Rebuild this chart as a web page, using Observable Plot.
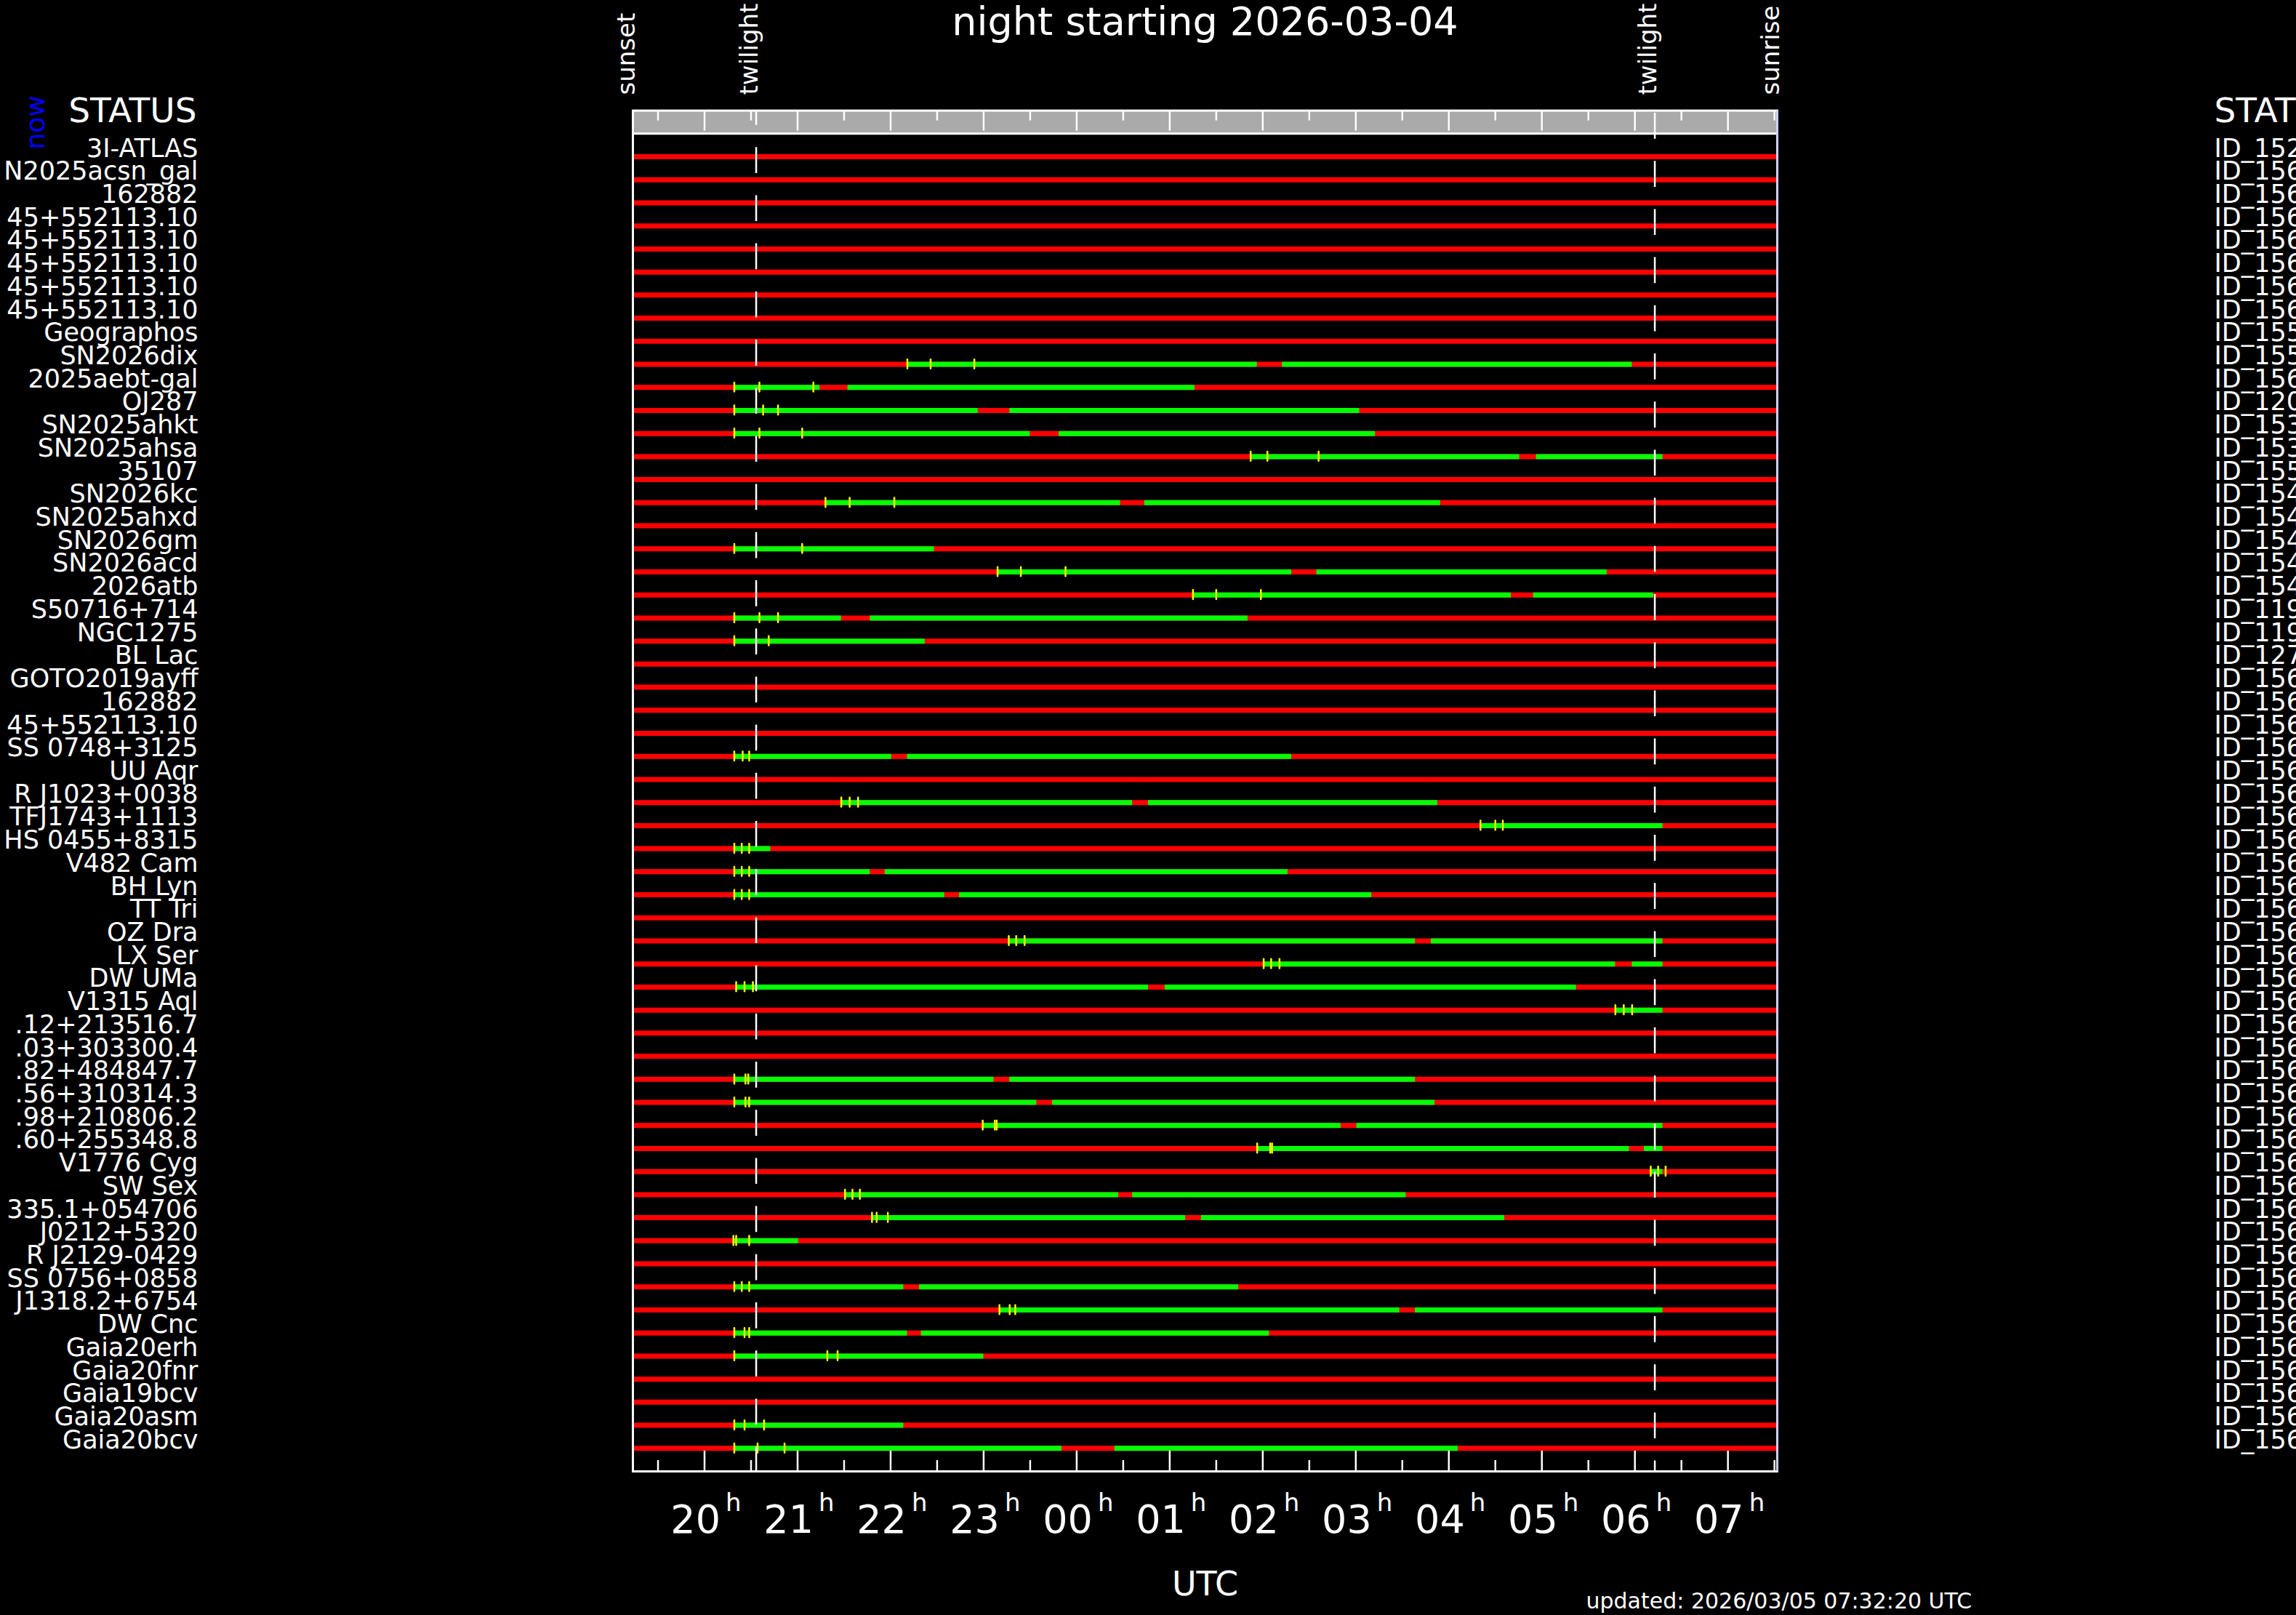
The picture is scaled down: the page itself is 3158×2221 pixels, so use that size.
<!DOCTYPE html>
<html>
<head>
<meta charset="utf-8">
<script src="https://cdn.jsdelivr.net/npm/d3@7"></script>
<script src="https://cdn.jsdelivr.net/npm/@observablehq/plot@0.6"></script>
<style>
  html, body { margin: 0; padding: 0; background: #000; overflow: hidden; }
  #chart svg { display: block; }
</style>
</head>
<body>
<div id="chart"></div>
<script>
// ---- data ----
const titleText = "night starting 2026-03-04";
const updatedText = "updated: 2026/03/05 07:32:20 UTC";

const targets = [
  "3I-ATLAS", "N2025acsn_gal", "162882", "45+552113.10", "45+552113.10",
  "45+552113.10", "45+552113.10", "45+552113.10", "Geographos", "SN2026dix",
  "2025aebt-gal", "OJ287", "SN2025ahkt", "SN2025ahsa", "35107",
  "SN2026kc", "SN2025ahxd", "SN2026gm", "SN2026acd", "2026atb",
  "S50716+714", "NGC1275", "BL Lac", "GOTO2019ayff", "162882",
  "45+552113.10", "SS 0748+3125", "UU Aqr", "R J1023+0038", "TFJ1743+1113",
  "HS 0455+8315", "V482 Cam", "BH Lyn", "TT Tri", "OZ Dra",
  "LX Ser", "DW UMa", "V1315 Aql", ".12+213516.7", ".03+303300.4",
  ".82+484847.7", ".56+310314.3", ".98+210806.2", ".60+255348.8", "V1776 Cyg",
  "SW Sex", "335.1+054706", "J0212+5320", "R J2129-0429", "SS 0756+0858",
  "J1318.2+6754", "DW Cnc", "Gaia20erh", "Gaia20fnr", "Gaia19bcv",
  "Gaia20asm", "Gaia20bcv"
];

const ids = [
  "ID_152", "ID_156", "ID_156", "ID_156", "ID_156", "ID_156", "ID_156", "ID_156",
  "ID_155", "ID_155", "ID_156", "ID_120", "ID_153", "ID_153", "ID_155",
  "ID_154", "ID_154", "ID_154", "ID_154", "ID_154", "ID_119", "ID_119", "ID_127",
  "ID_156", "ID_156", "ID_156", "ID_156", "ID_156", "ID_156", "ID_156",
  "ID_156", "ID_156", "ID_156", "ID_156", "ID_156", "ID_156", "ID_156",
  "ID_156", "ID_156", "ID_156", "ID_156", "ID_156", "ID_156", "ID_156",
  "ID_156", "ID_156", "ID_156", "ID_156", "ID_156", "ID_156", "ID_156",
  "ID_156", "ID_156", "ID_156", "ID_156", "ID_156", "ID_156"
];

// times in UTC hours (values above 24 belong to the next morning)
const sunset = 19.23;
const sunrise = 31.53;
const twilightEvening = 20.555;
const twilightMorning = 30.214;

// green observable windows per target [start, end]
const visible = [
  [], [], [], [], [], [], [], [], [],
  [[22.18, 25.94], [26.21, 29.97]],
  [[20.32, 21.24], [21.54, 25.27]],
  [[20.32, 22.94], [23.28, 27.04]],
  [[20.32, 23.50], [23.81, 27.21]],
  [[25.87, 28.76], [28.94, 30.30]],
  [],
  [[21.30, 24.47], [24.73, 27.91]],
  [],
  [[20.32, 22.47]],
  [[23.15, 26.31], [26.58, 29.70]],
  [[25.25, 28.67], [28.91, 30.20]],
  [[20.32, 21.47], [21.78, 25.84]],
  [[20.32, 22.37]],
  [], [], [], [],
  [[20.32, 22.01], [22.18, 26.31]],
  [],
  [[21.47, 24.60], [24.77, 27.88]],
  [[28.34, 30.30]],
  [[20.32, 20.71]],
  [[20.32, 21.78], [21.94, 26.27]],
  [[20.32, 22.58], [22.74, 27.17]],
  [],
  [[23.27, 27.64], [27.81, 30.30]],
  [[26.01, 29.79], [29.97, 30.30]],
  [[20.34, 24.77], [24.95, 29.37]],
  [[29.79, 30.30]],
  [], [],
  [[20.32, 23.11], [23.28, 27.64]],
  [[20.32, 23.57], [23.74, 27.85]],
  [[22.99, 26.84], [27.01, 30.30]],
  [[25.94, 29.94], [30.10, 30.30]],
  [[30.17, 30.30]],
  [[21.51, 24.45], [24.60, 27.54]],
  [[21.80, 25.17], [25.34, 28.60]],
  [[20.31, 21.01]],
  [],
  [[20.32, 22.14], [22.31, 25.74]],
  [[23.17, 27.47], [27.64, 30.30]],
  [[20.32, 22.18], [22.33, 26.07]],
  [[20.32, 23.00]],
  [], [],
  [[20.32, 22.14]],
  [[20.32, 23.84], [24.41, 28.10]]
];

// yellow exposure marks per target
const exposures = [
  [], [], [], [], [], [], [], [], [],
  [22.18, 22.43, 22.90],
  [20.32, 20.59, 21.17],
  [20.32, 20.63, 20.79],
  [20.32, 20.59, 21.05],
  [25.87, 26.05, 26.60],
  [],
  [21.30, 21.56, 22.04],
  [],
  [20.32, 21.05],
  [23.15, 23.40, 23.88],
  [25.25, 25.50, 25.98],
  [20.32, 20.59, 20.79],
  [20.32, 20.69],
  [], [], [], [],
  [20.32, 20.41, 20.48],
  [],
  [21.47, 21.56, 21.65],
  [28.34, 28.50, 28.58],
  [20.32, 20.40, 20.48],
  [20.32, 20.40, 20.48],
  [20.32, 20.40, 20.48],
  [],
  [23.27, 23.35, 23.44],
  [26.01, 26.09, 26.18],
  [20.34, 20.43, 20.52],
  [29.79, 29.88, 29.97],
  [], [],
  [20.32, 20.44, 20.47],
  [20.32, 20.44, 20.48],
  [22.99, 23.12, 23.14],
  [25.94, 26.08, 26.10],
  [30.17, 30.25, 30.33],
  [21.51, 21.59, 21.67],
  [21.80, 21.85, 21.97],
  [20.31, 20.34, 20.48],
  [],
  [20.32, 20.40, 20.48],
  [23.17, 23.28, 23.34],
  [20.32, 20.43, 20.48],
  [20.32, 21.32, 21.43],
  [], [],
  [20.32, 20.43, 20.64],
  [20.32, 20.57, 20.86]
];

const hourTicks = [20, 21, 22, 23, 24, 25, 26, 27, 28, 29, 30, 31];
const hourLabels = ["20", "21", "22", "23", "00", "01", "02", "03", "04", "05", "06", "07"];
const halfTicks = [19.5, 20.5, 21.5, 22.5, 23.5, 24.5, 25.5, 26.5, 27.5, 28.5, 29.5, 30.5, 31.5];
const events = [
  {t: sunset, label: "sunset"},
  {t: twilightEvening, label: "twilight"},
  {t: twilightMorning, label: "twilight"},
  {t: sunrise, label: "sunrise"}
];

// ---- derived tables ----
const rows = targets.map((name, i) => ({name, id: ids[i], row: i}));
const windows = visible.flatMap((segs, i) => segs.map(([start, end]) => ({row: i, start, end})));
const marksY = exposures.flatMap((ts, i) => ts.map(t => ({row: i, t})));
const hours = hourTicks.map((t, i) => ({t, label: hourLabels[i]}));

const RED = "#ff0000", GREEN = "#00ff00", YELLOW = "#ffff00", WHITE = "#ffffff";

const chart = Plot.plot({
  width: 3158,
  height: 2221,
  marginLeft: 870,
  marginRight: 714,
  marginTop: 151.6,
  marginBottom: 198,
  x: {domain: [sunset, sunrise], axis: null},
  y: {domain: [rows.length, -2], axis: null},
  style: {background: "#000", color: "#fff", fontFamily: "'DejaVu Sans', sans-serif", overflow: "hidden"},
  marks: [
    // grey header band with hour ticks
    Plot.rect([0], {x1: () => sunset, x2: () => sunrise, y1: () => -2, y2: () => -1, fill: "#aaaaaa"}),
    Plot.ruleX(hourTicks, {x: d => d, y1: () => -2, y2: () => -1, insetBottom: 3.7, stroke: WHITE, strokeWidth: 2.5}),
    Plot.ruleX(halfTicks, {x: d => d, y1: () => -2, y2: () => -1, insetBottom: 17.7, stroke: WHITE, strokeWidth: 2.5}),
    Plot.ruleY([0], {y: () => -1, x1: () => sunset, x2: () => sunrise, stroke: WHITE, strokeWidth: 3}),

    // red base bars
    Plot.ruleY(rows, {y: "row", x1: () => sunset, x2: () => sunrise, stroke: RED, strokeWidth: 7}),
    // green windows
    Plot.ruleY(windows, {y: "row", x1: "start", x2: "end", stroke: GREEN, strokeWidth: 7}),
    // yellow exposure ticks
    Plot.ruleX(marksY, {x: "t", y1: d => d.row - 0.2, y2: d => d.row + 0.2, stroke: YELLOW, strokeWidth: 2.5, strokeLinecap: "round"}),

    // frame and bottom ticks
    Plot.frame({stroke: WHITE, strokeWidth: 3}),
    Plot.ruleX([sunrise], {x: d => d, stroke: "#c8c8ff", strokeWidth: 2.5}),
    Plot.ruleX(hourTicks, {x: d => d, y1: () => rows.length - 1, y2: () => rows.length, insetTop: 3.7, stroke: WHITE, strokeWidth: 2.5}),
    Plot.ruleX(halfTicks, {x: d => d, y1: () => rows.length - 1, y2: () => rows.length, insetTop: 16.7, stroke: WHITE, strokeWidth: 2.5}),

    // twilight dashed lines
    Plot.ruleX([twilightEvening], {x: d => d, y1: () => -2, y2: () => rows.length, stroke: WHITE, strokeWidth: 2.5, strokeDasharray: "35.7,30.5", strokeDashoffset: 15.6}),
    Plot.ruleX([twilightMorning], {x: d => d, y1: () => -2, y2: () => rows.length, stroke: WHITE, strokeWidth: 2.5, strokeDasharray: "35.7,30.5", strokeDashoffset: 62.8}),

    // hour labels
    Plot.text(hours, {x: "t", text: "label", frameAnchor: "bottom", dy: 84, dx: 22, textAnchor: "end", lineAnchor: "bottom", fontSize: 54, fill: WHITE}),
    Plot.text(hours, {x: "t", text: () => "h", frameAnchor: "bottom", dy: 54, dx: 29, textAnchor: "start", lineAnchor: "bottom", fontSize: 34, fill: WHITE}),
    Plot.text(["UTC"], {frameAnchor: "bottom", dy: 170, lineAnchor: "bottom", fontSize: 46, fill: WHITE}),
    Plot.text([updatedText], {frameAnchor: "bottom-right", dx: -263, dy: 188, textAnchor: "start", lineAnchor: "bottom", fontSize: 30, fill: WHITE}),

    // title and sun/twilight event labels
    Plot.text([titleText], {frameAnchor: "top", dy: -104.6, lineAnchor: "bottom", fontSize: 54, fill: WHITE}),
    Plot.text(events, {x: "t", text: "label", frameAnchor: "top", dy: -21.6, dx: 2, rotate: -90, textAnchor: "start", lineAnchor: "bottom", fontSize: 34, fill: WHITE}),

    // left labels
    Plot.text(["STATUS"], {y: () => -1.5, frameAnchor: "left", dx: -600, textAnchor: "end", lineAnchor: "bottom", fontSize: 47, fill: WHITE}),
    Plot.text(["now"], {frameAnchor: "top-left", dx: -810, dy: 53.4, rotate: -90, textAnchor: "start", lineAnchor: "bottom", fontSize: 36, fill: "#0000ff"}),
    Plot.text(rows, {y: "row", text: "name", frameAnchor: "left", dx: -598, textAnchor: "end", lineAnchor: "bottom", fontSize: 35, fill: WHITE}),

    // right labels
    Plot.text(["STATUS"], {y: () => -1.5, frameAnchor: "right", dx: 601, textAnchor: "start", lineAnchor: "bottom", fontSize: 47, fill: WHITE}),
    Plot.text(rows, {y: "row", text: "id", frameAnchor: "right", dx: 601, textAnchor: "start", lineAnchor: "bottom", fontSize: 35, fill: WHITE})
  ]
});

document.getElementById("chart").append(chart);
</script>
</body>
</html>
